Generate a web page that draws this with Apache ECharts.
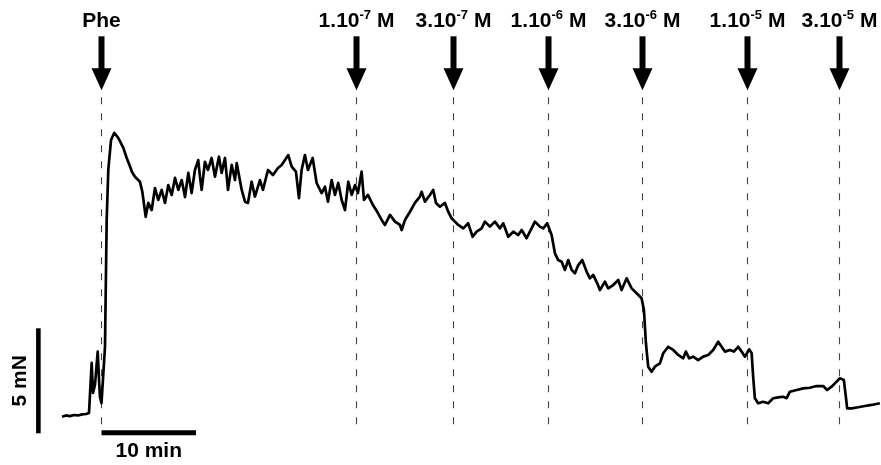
<!DOCTYPE html>
<html>
<head>
<meta charset="utf-8">
<script src="https://cdn.jsdelivr.net/npm/echarts@6/dist/echarts.min.js"></script>
<style>
  html, body { margin: 0; padding: 0; background: #fff; }
  #chart { width: 881px; height: 465px; }
</style>
</head>
<body>
<div id="chart"></div>
<script>
// Isometric tension recording: time since phenylephrine addition (min)
const traceTime = [
  -4.18, -3.76, -3.33, -2.91, -2.49, -2.06, -1.64, -1.32, -1.16, -1.04,
  -0.90, -0.69, -0.40, -0.26, -0.16, 0.00, 0.19, 0.37, 0.55, 0.72,
  1.01, 1.35, 1.78, 2.06, 2.31, 2.67, 3.02, 3.23, 3.54, 4.07,
  4.32, 4.68, 4.95, 5.31, 5.66, 6.01, 6.37, 6.72, 7.07, 7.43,
  7.78, 8.13, 8.49, 8.84, 9.19, 9.54, 9.89, 10.24, 10.42, 10.60,
  10.95, 11.27, 11.66, 12.01, 12.43, 12.72, 13.07, 13.39, 13.78, 14.13,
  14.31, 14.84, 15.19, 15.50, 15.89, 16.24, 16.77, 17.09, 17.62, 18.15,
  18.68, 19.07, 19.42, 19.77, 20.13, 20.58, 20.90, 21.18, 21.53, 21.85,
  22.35, 22.77, 23.30, 23.65, 23.97, 24.36, 24.71, 25.06, 25.42, 25.77,
  26.12, 26.48, 26.83, 27.14, 27.53, 27.78, 28.20, 28.73, 29.26, 29.65,
  30.00, 30.53, 31.06, 31.59, 31.77, 32.12, 32.65, 33.17, 33.70, 33.88,
  34.23, 34.76, 35.11, 35.40, 35.82, 36.35, 36.70, 37.06, 37.41, 37.76,
  38.29, 38.81, 39.28, 39.70, 40.23, 40.58, 41.11, 41.64, 42.17, 42.52,
  43.05, 43.58, 44.11, 44.47, 44.99, 45.52, 45.87, 46.40, 46.75, 47.17,
  47.64, 47.99, 48.34, 48.70, 49.05, 49.40, 49.76, 50.11, 50.46, 50.88,
  51.34, 51.69, 52.04, 52.47, 52.75, 53.28, 53.63, 54.16, 54.69, 55.05,
  55.58, 56.11, 56.64, 57.16, 57.41, 57.62, 57.86, 58.22, 58.57, 59.10,
  59.45, 59.98, 60.51, 61.04, 61.57, 61.85, 62.20, 62.62, 63.15, 63.68,
  64.21, 64.74, 65.27, 65.63, 65.98, 66.51, 66.93, 67.39, 67.75, 68.10,
  68.55, 68.81, 68.97, 69.15, 69.50, 70.03, 70.56, 71.09, 71.62, 72.15,
  72.51, 72.86, 73.57, 74.26, 74.97, 75.68, 76.38, 76.80, 77.27, 77.80,
  78.15, 78.57, 78.78, 78.92, 79.39, 80.09, 80.79, 81.50, 82.38
];

// Developed tension (mN)
const traceForce = [
  0.79, 0.85, 0.82, 0.87, 0.85, 0.90, 0.92, 0.97, 1.01, 3.35,
  1.92, 2.30, 3.89, 2.54, 1.73, 1.44, 1.35, 4.11, 10.16, 12.54,
  13.97, 14.31, 14.06, 13.82, 13.59, 13.11, 12.70, 12.44, 12.22, 11.98,
  11.50, 10.31, 10.97, 10.63, 11.68, 11.11, 11.59, 10.97, 11.82, 11.35,
  12.16, 11.59, 12.06, 11.25, 12.40, 11.44, 12.54, 13.01, 12.22, 11.59,
  12.93, 12.54, 13.11, 12.22, 13.17, 12.40, 13.11, 11.59, 12.78, 12.06,
  12.87, 11.59, 11.03, 10.97, 11.98, 11.27, 12.06, 11.59, 12.54, 12.30,
  12.63, 12.78, 13.01, 13.25, 12.70, 12.46, 11.20, 12.54, 13.25, 12.54,
  13.11, 11.92, 11.44, 11.74, 11.03, 12.06, 11.35, 11.92, 11.11, 10.63,
  11.98, 11.35, 11.82, 11.44, 12.46, 11.11, 11.35, 10.87, 10.49, 10.16,
  9.92, 10.40, 10.08, 9.92, 9.68, 10.16, 10.55, 10.97, 11.27, 11.50,
  11.03, 11.35, 11.59, 10.97, 10.79, 10.97, 10.55, 10.24, 10.08, 9.92,
  9.76, 10.00, 9.36, 9.60, 9.76, 10.08, 9.84, 10.08, 9.76, 10.00,
  9.36, 9.60, 9.44, 9.68, 9.29, 9.76, 10.08, 9.84, 9.76, 10.00,
  9.44, 8.57, 8.25, 8.17, 7.78, 8.25, 7.78, 7.62, 8.01, 8.25,
  7.70, 7.38, 7.54, 7.14, 6.82, 7.22, 6.90, 7.06, 7.30, 6.82,
  7.38, 6.90, 6.67, 6.43, 5.87, 4.29, 3.17, 2.93, 3.17, 3.33,
  3.81, 4.12, 3.97, 3.73, 3.57, 3.89, 3.57, 3.65, 3.49, 3.65,
  3.73, 3.97, 4.36, 4.12, 3.89, 3.97, 3.89, 4.12, 3.89, 3.65,
  4.00, 3.81, 2.70, 1.67, 1.43, 1.50, 1.43, 1.67, 1.71, 1.74,
  1.67, 1.98, 2.06, 2.14, 2.17, 2.25, 2.25, 2.06, 2.22, 2.46,
  2.62, 2.54, 1.74, 1.19, 1.19, 1.24, 1.30, 1.35, 1.43
];

// Additions: phenylephrine, then cumulative concentrations (mantissa . 10^exponent M)
const doseTimes = [0, 26.93, 37.16, 47.28, 57.16, 68.34, 78.04];
const doseMantissa = ['Phe', '1.10', '3.10', '1.10', '3.10', '1.10', '3.10'];
const doseExponent = ['', '-7', '-7', '-6', '-6', '-5', '-5'];

// Calibration bars
const scaleTimeLength = 10;   // min
const scaleForceLength = 5;   // mN
const scaleTimeLabel = '10 min';
const scaleForceLabel = '5 mN';

const FONT = '"Liberation Sans", Arial, Helvetica, sans-serif';

const chart = echarts.init(document.getElementById('chart'), null, { renderer: 'canvas' });

const xMin = -7, xMax = 82.5, yMin = -1, yMax = 18;
const pxPerMin = 9.45, pxPerMN = 21;

function doseLabel(i) {
  if (!doseExponent[i]) return '{m|' + doseMantissa[i] + '}';
  return '{m|' + doseMantissa[i] + '}{e|' + doseExponent[i] + '}{m| M}';
}

const richStyles = {
  m: { fontSize: 21, fontWeight: 'bold', fontFamily: FONT, lineHeight: 24, fill: '#000' },
  e: { fontSize: 13, fontWeight: 'bold', fontFamily: FONT, lineHeight: 15, verticalAlign: 'top', fill: '#000' }
};

chart.setOption({
  animation: false,
  backgroundColor: '#fff',
  grid: {
    left: 101.5 + xMin * pxPerMin,
    width: (xMax - xMin) * pxPerMin,
    top: 433.3 - yMax * pxPerMN,
    height: (yMax - yMin) * pxPerMN
  },
  xAxis: { type: 'value', min: xMin, max: xMax, show: false },
  yAxis: { type: 'value', min: yMin, max: yMax, show: false },
  series: [
    {
      type: 'line',
      data: traceTime.map((t, i) => [t, traceForce[i]]),
      showSymbol: false,
      clip: false,
      lineStyle: { color: '#000', width: 2.7, join: 'round' },
      z: 3
    },
    {
      // dashed markers, arrows and concentration labels
      type: 'custom',
      clip: false,
      data: doseTimes.map((t, i) => [t, i]),
      renderItem: function (params, api) {
        const i = api.value(1);
        const top = api.coord([api.value(0), 16.0]);
        const bottom = api.coord([api.value(0), 0.4]);
        const x = Math.round(top[0]) + 0.5;
        const y0 = top[1];
        return {
          type: 'group',
          children: [
            {
              type: 'line',
              shape: { x1: x, y1: y0, x2: x, y2: bottom[1] },
              style: { stroke: '#444', lineWidth: 1.1, lineDash: [7, 9] }
            },
            {
              type: 'rect',
              shape: { x: x - 3, y: y0 - 61, width: 6, height: 33 },
              style: { fill: '#000' }
            },
            {
              type: 'polygon',
              shape: { points: [[x - 10, y0 - 29], [x + 10, y0 - 29], [x, y0 - 7]] },
              style: { fill: '#000' }
            },
            {
              type: 'text',
              style: {
                text: doseLabel(i),
                x: x,
                y: y0 - 64,
                align: 'center',
                verticalAlign: 'bottom',
                rich: richStyles
              }
            }
          ]
        };
      },
      z: 2
    },
    {
      // calibration bars
      type: 'custom',
      clip: false,
      data: [[-6.68, 0]],
      renderItem: function (params, api) {
        const xb = api.value(0);
        const vb0 = api.coord([xb, 0]);
        const vb1 = api.coord([xb, scaleForceLength]);
        const hb0 = api.coord([0, 0]);
        const hb1 = api.coord([scaleTimeLength, 0]);
        return {
          type: 'group',
          children: [
            {
              type: 'rect',
              shape: { x: vb0[0] - 2.3, y: vb1[1], width: 4.6, height: vb0[1] - vb1[1] },
              style: { fill: '#000' }
            },
            {
              type: 'rect',
              shape: { x: hb0[0], y: hb0[1] - 3, width: hb1[0] - hb0[0], height: 5 },
              style: { fill: '#000' }
            },
            {
              type: 'text',
              x: vb0[0] - 18,
              y: (vb0[1] + vb1[1]) / 2,
              rotation: Math.PI / 2,
              style: {
                text: scaleForceLabel,
                x: 0, y: 0,
                align: 'center',
                verticalAlign: 'middle',
                font: 'bold 21px ' + FONT,
                fill: '#000'
              }
            },
            {
              type: 'text',
              style: {
                text: scaleTimeLabel,
                x: (hb0[0] + hb1[0]) / 2,
                y: hb0[1] + 18,
                align: 'center',
                verticalAlign: 'middle',
                font: 'bold 21px ' + FONT,
                fill: '#000'
              }
            }
          ]
        };
      },
      z: 4
    }
  ]
});
</script>
</body>
</html>
